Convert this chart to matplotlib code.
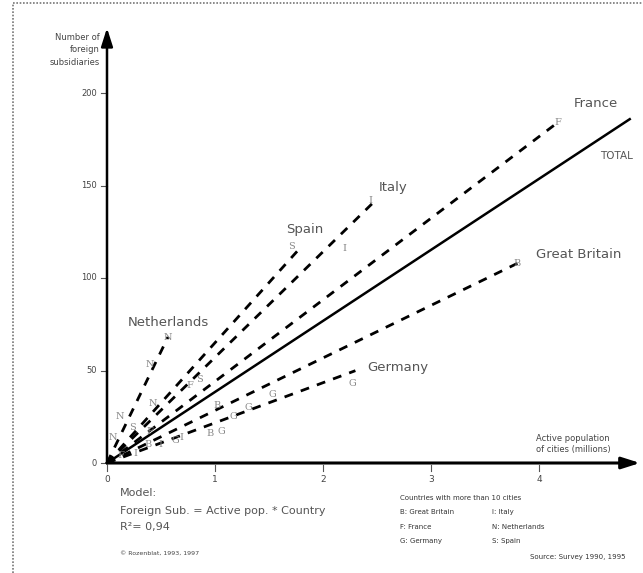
import matplotlib
matplotlib.use("Agg")
import matplotlib.pyplot as plt
import numpy as np

W, H = 643, 573
# Country regression lines: slope (subsidiaries per million) and extent (max active pop.)
countries = ["Netherlands", "Spain", "Italy", "France", "Great Britain", "Germany"]
slopes = [120.6, 65.0, 57.1, 44.1, 28.4, 21.7]
x_end = [0.565, 1.79, 2.49, 4.17, 3.80, 2.30]
total_slope = 38.4
total_end = 4.84

# City points (active pop. in millions, foreign subsidiaries) with country letter
city_code = ["N", "N", "N", "N", "N",
             "F", "F", "F", "F",
             "S", "S", "S",
             "I", "I", "I", "I", "I",
             "B", "B", "B", "B",
             "G", "G", "G", "G", "G", "G"]
city_x = [0.565, 0.40, 0.42, 0.12, 0.05,
          4.17, 0.77, 0.40, 0.13,
          1.71, 0.86, 0.24,
          2.44, 2.20, 0.69, 0.49, 0.26,
          3.80, 1.02, 0.95, 0.38,
          2.27, 1.53, 1.31, 1.17, 1.06, 0.63]
city_y = [68, 53, 32, 25, 14,
          184, 42, 17, 4,
          117, 45, 19,
          142, 116, 14, 10, 5,
          108, 31, 16, 10,
          43, 37, 30, 25, 17, 12]

xticks = [0, 1, 2, 3, 4]
yticks = [0, 50, 100, 150, 200]

# pixel mapping of the reference: px = 107 + 108*x ; py = 463 - 1.85*y
x0, sx = 107, 108.0
y0, sy = 463, 1.85

fig = plt.figure(figsize=(W / 100, H / 100), dpi=100)
ax = fig.add_axes([0, 0, 1, 1])
ax.set_xlim(-x0 / sx, (W - x0) / sx)
ax.set_ylim((y0 - H) / sy, y0 / sy)
ax.axis("off")

def ptxt(px, py, s, **kw):
    fig.text(px / W, 1 - py / H, s, **kw)

# frame (dotted)
fig.add_artist(plt.Line2D([13 / W, 13 / W], [0, 1 - 3 / H], color="#777777",
                          lw=1.2, ls=(0, (1, 1))))
fig.add_artist(plt.Line2D([13 / W, 1], [1 - 3 / H, 1 - 3 / H], color="#777777",
                          lw=1.2, ls=(0, (1, 1))))

# axes with arrows
ytip = (y0 - 28) / sy
xtip = (640 - x0) / sx
ax.annotate("", xy=(0, ytip), xytext=(0, 0),
            arrowprops=dict(arrowstyle="-|>,head_length=1.1,head_width=0.35",
                            color="black", lw=1.8, shrinkA=0, shrinkB=0))
ax.annotate("", xy=(xtip, 0), xytext=(0, 0),
            arrowprops=dict(arrowstyle="-|>,head_length=1.1,head_width=0.35",
                            color="black", lw=2.2, shrinkA=0, shrinkB=0))

# ticks
for t in yticks:
    ax.plot([-6 / sx, 0], [t, t], color="#555555", lw=0.8)
    ax.text(-10 / sx, t, str(t), ha="right", va="center", fontsize=6, color="#444444")
for t in xticks:
    ax.plot([t, t], [-2 / sy, -8 / sy], color="#555555", lw=0.8)
    ax.text(t, -17 / sy, str(t), ha="center", va="center", fontsize=6.5, color="#444444")

# regression lines
for c, b, xe in zip(countries, slopes, x_end):
    ax.plot([0, xe], [0, b * xe], color="black", lw=2.0, ls=(0, (3.2, 3.0)),
            solid_capstyle="butt", dash_capstyle="butt")
ax.plot([0, total_end], [0, total_slope * total_end], color="black", lw=1.8)

# city letters
for code, cx, cy in zip(city_code, city_x, city_y):
    ax.text(cx, cy, code, fontsize=7, color="#888888", ha="center", va="center",
            family="DejaVu Serif")

# country labels
lab_kw = dict(fontsize=9.5, color="#555555", ha="center", va="center")
ptxt(596, 103, "France", **lab_kw)
ptxt(616, 156, "TOTAL", fontsize=7.5, color="#555555", ha="center", va="center")
ptxt(393, 188, "Italy", **lab_kw)
ptxt(305, 230, "Spain", **lab_kw)
ptxt(168, 322, "Netherlands", **lab_kw)
ptxt(579, 254, "Great Britain", **lab_kw)
ptxt(398, 368, "Germany", **lab_kw)

# axis titles
ptxt(100, 50, "Number of\nforeign\nsubsidiaries", fontsize=6, color="#444444",
     ha="right", va="center", linespacing=1.5)
ptxt(573, 444, "Active population\nof cities (millions)", fontsize=6, color="#444444",
     ha="center", va="center", linespacing=1.4)

# model text
ptxt(120, 493, "Model:", fontsize=8, color="#555555", ha="left", va="center")
ptxt(120, 511, "Foreign Sub. = Active pop. * Country", fontsize=8, color="#555555",
     ha="left", va="center")
ptxt(120, 527, "R²= 0,94", fontsize=8, color="#555555", ha="left", va="center")
ptxt(120, 553, "© Rozenblat, 1993, 1997", fontsize=4.5, color="#444444",
     ha="left", va="center")

# country code legend
lg_kw = dict(fontsize=5, color="#333333", ha="left", va="center")
ptxt(400, 498, "Countries with more than 10 cities", **lg_kw)
ptxt(400, 512, "B: Great Britain", **lg_kw)
ptxt(400, 527, "F: France", **lg_kw)
ptxt(400, 541, "G: Germany", **lg_kw)
ptxt(492, 512, "I: Italy", **lg_kw)
ptxt(492, 527, "N: Netherlands", **lg_kw)
ptxt(492, 541, "S: Spain", **lg_kw)
ptxt(625, 557, "Source: Survey 1990, 1995", fontsize=5, color="#333333",
     ha="right", va="center")

fig.savefig("out.png", dpi=100)
